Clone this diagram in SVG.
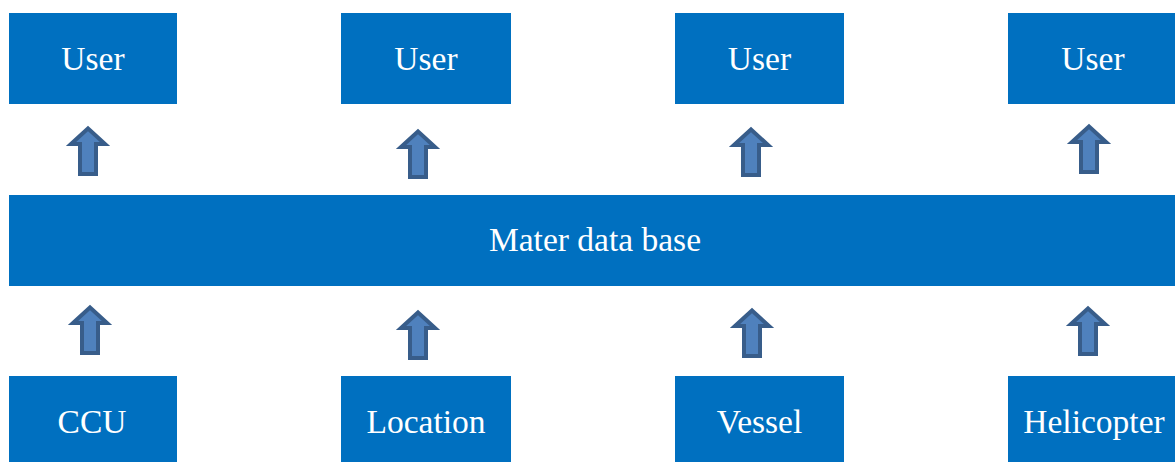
<svg xmlns="http://www.w3.org/2000/svg" width="1175" height="462" viewBox="0 0 1175 462">
<defs>
<style>
.box{fill:#0070C0}
.lbl{fill:#ffffff;font-family:"Liberation Serif","DejaVu Serif",serif;font-size:33.5px;text-anchor:middle}
.arr{fill:#4F81BD;stroke:#385D8A;stroke-width:4;stroke-linejoin:miter}
</style>
<path id="up" class="arr" d="M0,2.5 L17,18 L8,18 L8,48 L-8,48 L-8,18 L-17,18 Z"/>
</defs>
<rect width="1175" height="462" fill="#ffffff"/>
<g id="user1"><rect class="box" x="9" y="13" width="168" height="91"/><text class="lbl" x="93" y="70">User</text></g>
<g id="user2"><rect class="box" x="341" y="13" width="170" height="91"/><text class="lbl" x="426" y="70">User</text></g>
<g id="user3"><rect class="box" x="675" y="13" width="169" height="91"/><text class="lbl" x="759.5" y="70">User</text></g>
<g id="user4"><rect class="box" x="1008" y="13" width="167" height="91"/><text class="lbl" x="1093" y="70">User</text></g>
<g id="master"><rect class="box" x="9" y="195" width="1166" height="91"/><text class="lbl" x="595" y="251" font-size="34.5">Mater data base</text></g>
<g id="ccu"><rect class="box" x="9" y="376" width="168" height="86"/><text class="lbl" x="92" y="433">CCU</text></g>
<g id="location"><rect class="box" x="341" y="376" width="170" height="86"/><text class="lbl" x="426" y="433">Location</text></g>
<g id="vessel"><rect class="box" x="675" y="376" width="169" height="86"/><text class="lbl" x="759.5" y="433">Vessel</text></g>
<g id="helicopter"><rect class="box" x="1008" y="376" width="167" height="86"/><text class="lbl" x="1094" y="433">Helicopter</text></g>
<g id="connectors">
<use href="#up" x="88" y="126"/>
<use href="#up" x="418" y="129"/>
<use href="#up" x="751" y="127"/>
<use href="#up" x="1089" y="124"/>
<use href="#up" x="90" y="305"/>
<use href="#up" x="418" y="310"/>
<use href="#up" x="752" y="308"/>
<use href="#up" x="1088" y="306"/>
</g>
</svg>
